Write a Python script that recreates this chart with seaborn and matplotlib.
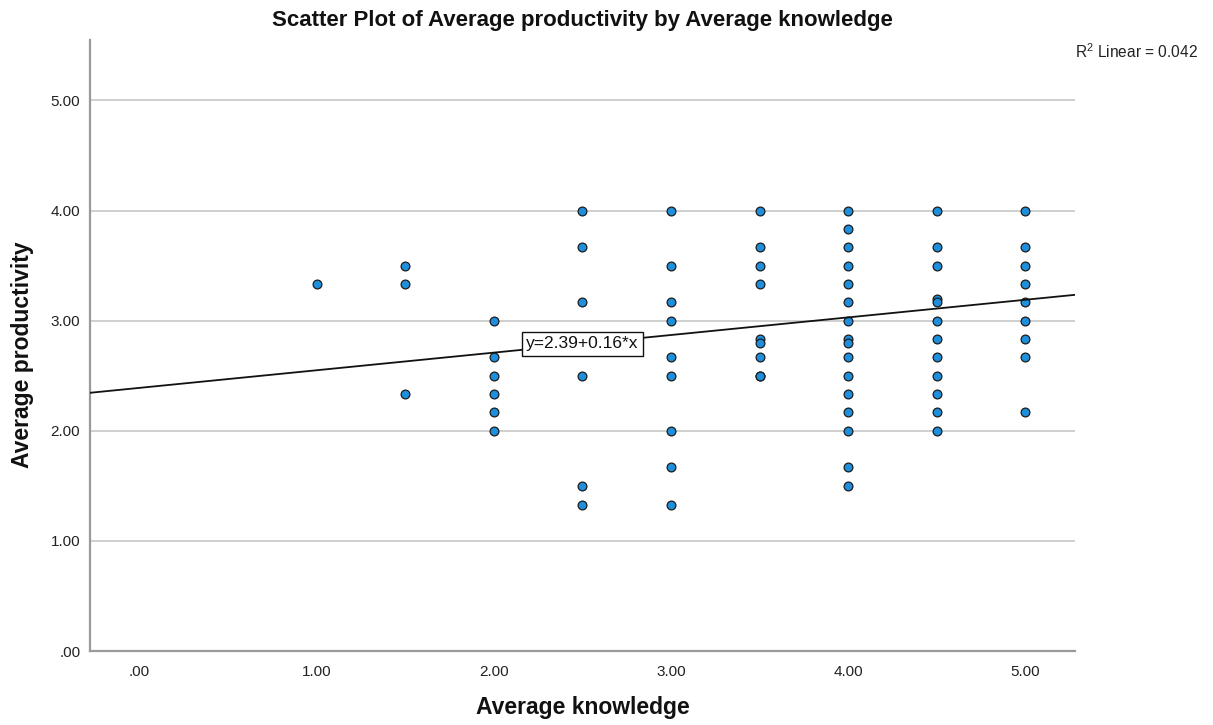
import matplotlib
matplotlib.use("Agg")
import matplotlib.pyplot as plt
import pandas as pd
import seaborn as sns

# Average knowledge score for each respondent
knowledge = (
    [1.0]
    + [1.5] * 3
    + [2.0] * 6
    + [2.5] * 6
    + [3.0] * 9
    + [3.5] * 9
    + [4.0] * 16
    + [4.5] * 12
    + [5.0] * 9
)

# Matching average productivity score
productivity = (
    [3.33]
    + [3.5, 3.33, 2.33]
    + [3.0, 2.67, 2.5, 2.33, 2.17, 2.0]
    + [4.0, 3.67, 3.17, 2.5, 1.5, 1.33]
    + [4.0, 3.5, 3.17, 3.0, 2.67, 2.5, 2.0, 1.67, 1.33]
    + [4.0, 3.67, 3.5, 3.33, 2.83, 2.8, 2.67, 2.5, 2.5]
    + [4.0, 3.83, 3.67, 3.5, 3.33, 3.17, 3.0, 2.83, 2.8, 2.67, 2.5, 2.33,
       2.17, 2.0, 1.67, 1.5]
    + [4.0, 3.67, 3.5, 3.2, 3.17, 3.0, 2.83, 2.67, 2.5, 2.33, 2.17, 2.0]
    + [4.0, 3.67, 3.5, 3.33, 3.17, 3.0, 2.83, 2.67, 2.17]
)

# Fitted linear model
intercept = 2.39
slope = 0.16
r_squared = 0.042

x_ticks = [0, 1, 2, 3, 4, 5]
y_ticks = [0, 1, 2, 3, 4, 5]
tick_labels = [".00", "1.00", "2.00", "3.00", "4.00", "5.00"]

df = pd.DataFrame({"Average knowledge": knowledge,
                   "Average productivity": productivity})

sns.set_theme(style="white")
plt.rcParams["font.family"] = ["Liberation Sans", "DejaVu Sans"]
plt.rcParams["mathtext.default"] = "regular"

fig = plt.figure(figsize=(12.13, 7.25), dpi=100)
ax = fig.add_axes([0.0742, 0.102, 0.812, 0.843])

sns.scatterplot(data=df, x="Average knowledge", y="Average productivity",
                ax=ax, color="#1e8fdc", edgecolor="#1c1c1c", linewidth=0.9,
                s=40, zorder=3)

ax.axline((0, intercept), slope=slope, color="#111111", lw=1.3, zorder=4)

x_mid = 2.5
ax.text(x_mid, intercept + slope * x_mid, f"y={intercept:.2f}+{slope:.2f}*x",
        ha="center", va="center", fontsize=12.5, color="#111111", zorder=5,
        bbox=dict(boxstyle="square,pad=0.25", facecolor="white",
                  edgecolor="#111111", linewidth=1.0))

ax.set_xlim(-0.28, 5.28)
ax.set_ylim(0, 5.55)
ax.set_xticks(x_ticks)
ax.set_xticklabels(tick_labels)
ax.set_yticks(y_ticks)
ax.set_yticklabels(tick_labels)
ax.tick_params(axis="both", length=0, labelsize=11, colors="#222222")
ax.tick_params(axis="x", pad=10)
ax.tick_params(axis="y", pad=7)

ax.yaxis.grid(True, color="#cfcfcf", linewidth=1.4)
ax.xaxis.grid(False)
ax.set_axisbelow(True)

for side in ("top", "right"):
    ax.spines[side].set_visible(False)
for side in ("left", "bottom"):
    ax.spines[side].set_color("#9a9a9a")
    ax.spines[side].set_linewidth(1.6)

ax.set_xlabel("Average knowledge", fontsize=16.5, fontweight="bold",
              color="#111111", labelpad=12)
ax.set_ylabel("Average productivity", fontsize=16.5, fontweight="bold",
              color="#111111")
ax.yaxis.set_label_coords(-0.0565, 0.485)
ax.set_title("Scatter Plot of Average productivity by Average knowledge",
             fontsize=16, fontweight="bold", color="#111111", pad=10)

fig.text(1075 / 1213, 1 - 52 / 725, f"R$^2$ Linear = {r_squared:.3f}",
         ha="left", va="center", fontsize=11.2, color="#222222")

fig.savefig("out.png", dpi=100, facecolor="white")
